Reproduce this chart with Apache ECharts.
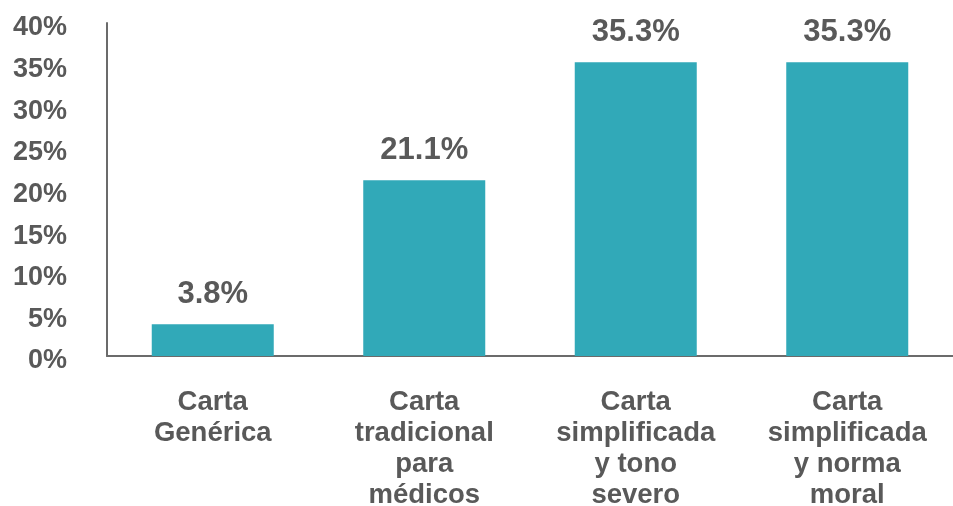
<!DOCTYPE html>
<html>
<head>
<meta charset="utf-8">
<script src="https://cdn.jsdelivr.net/npm/echarts@6/dist/echarts.min.js"></script>
<style>html,body{margin:0;padding:0;background:#fff}#c{width:953px;height:506px}</style>
</head>
<body>
<div id="c"></div>
<script>
const categories = ["Carta\nGenérica", "Carta\ntradicional\npara\nmédicos", "Carta\nsimplificada\ny tono\nsevero", "Carta\nsimplificada\ny norma\nmoral"];
const values = [3.8, 21.1, 35.3, 35.3];
const yTicks = [0, 5, 10, 15, 20, 25, 30, 35, 40];

const textColor = '#595959';
const font = '"Liberation Sans", Arial, sans-serif';
const chart = echarts.init(document.getElementById('c'));
chart.setOption({
  animation: false,
  grid: {left: 107, right: 0, top: 23, bottom: 150, containLabel: false, outerBoundsMode: 'none'},
  xAxis: {
    type: 'category',
    data: categories,
    axisLine: {lineStyle: {color: '#6b6b6b', width: 2}},
    axisTick: {show: false},
    axisLabel: {color: textColor, fontFamily: font, fontWeight: 'bold', fontSize: 27.5, lineHeight: 31, margin: 31, interval: 0}
  },
  yAxis: {
    type: 'value',
    min: yTicks[0], max: yTicks[yTicks.length - 1], interval: 5,
    axisLine: {show: true, lineStyle: {color: '#6b6b6b', width: 2}},
    axisTick: {show: false},
    splitLine: {show: false},
    axisLabel: {
      margin: 40,
      formatter: v => '{a|' + v + '%}',
      rich: {a: {color: textColor, fontFamily: font, fontWeight: 'bold', fontSize: 27, padding: [10, 0, 0, 0]}}
    }
  },
  series: [{
    type: 'bar',
    data: values,
    barWidth: 122,
    itemStyle: {color: '#31A9B8'},
    label: {show: true, position: 'top', distance: 14, color: textColor, fontFamily: font, fontWeight: 'bold', fontSize: 31, formatter: p => p.value.toFixed(1) + '%'}
  }]
});
</script>
</body>
</html>
